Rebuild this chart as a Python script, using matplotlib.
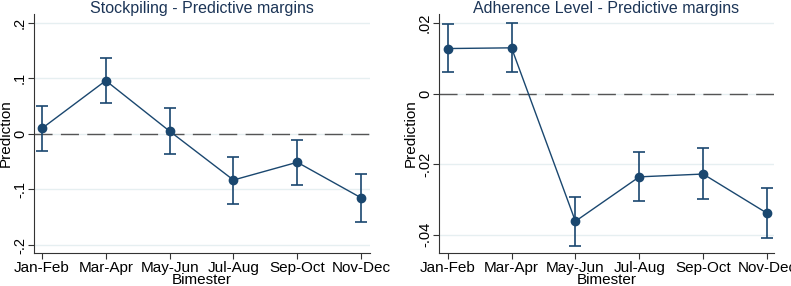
import matplotlib.pyplot as plt

plt.rcParams['font.family'] = ['Liberation Sans', 'DejaVu Sans']

bimesters = ['Jan-Feb', 'Mar-Apr', 'May-Jun', 'Jul-Aug', 'Sep-Oct', 'Nov-Dec']

# Stockpiling margins and 95% CI
stock_est = [0.010, 0.096, 0.005, -0.083, -0.051, -0.115]
stock_lo = [-0.030, 0.055, -0.036, -0.126, -0.092, -0.158]
stock_hi = [0.050, 0.137, 0.046, -0.041, -0.011, -0.073]

# Adherence level margins and 95% CI
adh_est = [0.0128, 0.0130, -0.0362, -0.0236, -0.0228, -0.0339]
adh_lo = [0.0061, 0.0062, -0.0431, -0.0305, -0.0298, -0.0409]
adh_hi = [0.0197, 0.0200, -0.0293, -0.0166, -0.0155, -0.0268]

navy = '#1a476f'
grid = '#e6eff1'

fig = plt.figure(figsize=(7.91, 2.86), dpi=100)
ax1 = fig.add_axes([34 / 791, 1 - 253 / 286, 336 / 791, 239 / 286])
ax2 = fig.add_axes([439 / 791, 1 - 253 / 286, 335 / 791, 239 / 286])


def panel(ax, est, lo, hi, title, yticks, ylabels, ylim, xlim):
    x = list(range(len(bimesters)))
    yerr = [[e - l for e, l in zip(est, lo)], [h - e for e, h in zip(est, hi)]]
    for t in yticks:
        ax.axhline(t, color=grid, lw=1, zorder=0)
    ax.axhline(0, color='#555555', lw=1, dashes=(13, 6), zorder=1)
    ax.errorbar(x, est, yerr=yerr, fmt='o-', color=navy, ms=6, lw=1,
                elinewidth=1.2, capsize=4, capthick=1.2, zorder=3)
    ax.set_xlim(xlim)
    ax.set_ylim(ylim)
    ax.set_xticks(x)
    ax.set_xticklabels(bimesters, fontsize=11)
    ax.set_yticks(yticks)
    ax.set_yticklabels(ylabels, fontsize=10.5, rotation=90, va='center')
    ax.set_xlabel('Bimester', fontsize=11, labelpad=-2)
    ax.set_ylabel('Prediction', fontsize=11, labelpad=0)
    ax.set_title(title, fontsize=11.5, color='#1c3557', y=1.0, pad=1)
    for s in ['top', 'right']:
        ax.spines[s].set_visible(False)
    ax.spines['left'].set_color('#333333')
    ax.spines['bottom'].set_color('#333333')
    ax.tick_params(axis='x', direction='out', length=4, color='#333333', pad=2)
    ax.tick_params(axis='y', direction='out', length=4, color='#333333', pad=1)


panel(ax1, stock_est, stock_lo, stock_hi, 'Stockpiling - Predictive margins',
      [-0.2, -0.1, 0, 0.1, 0.2], ['-.2', '-.1', '0', '.1', '.2'],
      (-0.2144, 0.216), (-0.125, 5.14))
panel(ax2, adh_est, adh_lo, adh_hi, 'Adherence Level - Predictive margins',
      [-0.04, -0.02, 0, 0.02], ['-.04', '-.02', '0', '.02'],
      (-0.0452, 0.0226), (-0.136, 5.11))

fig.savefig('out.png', dpi=100)
